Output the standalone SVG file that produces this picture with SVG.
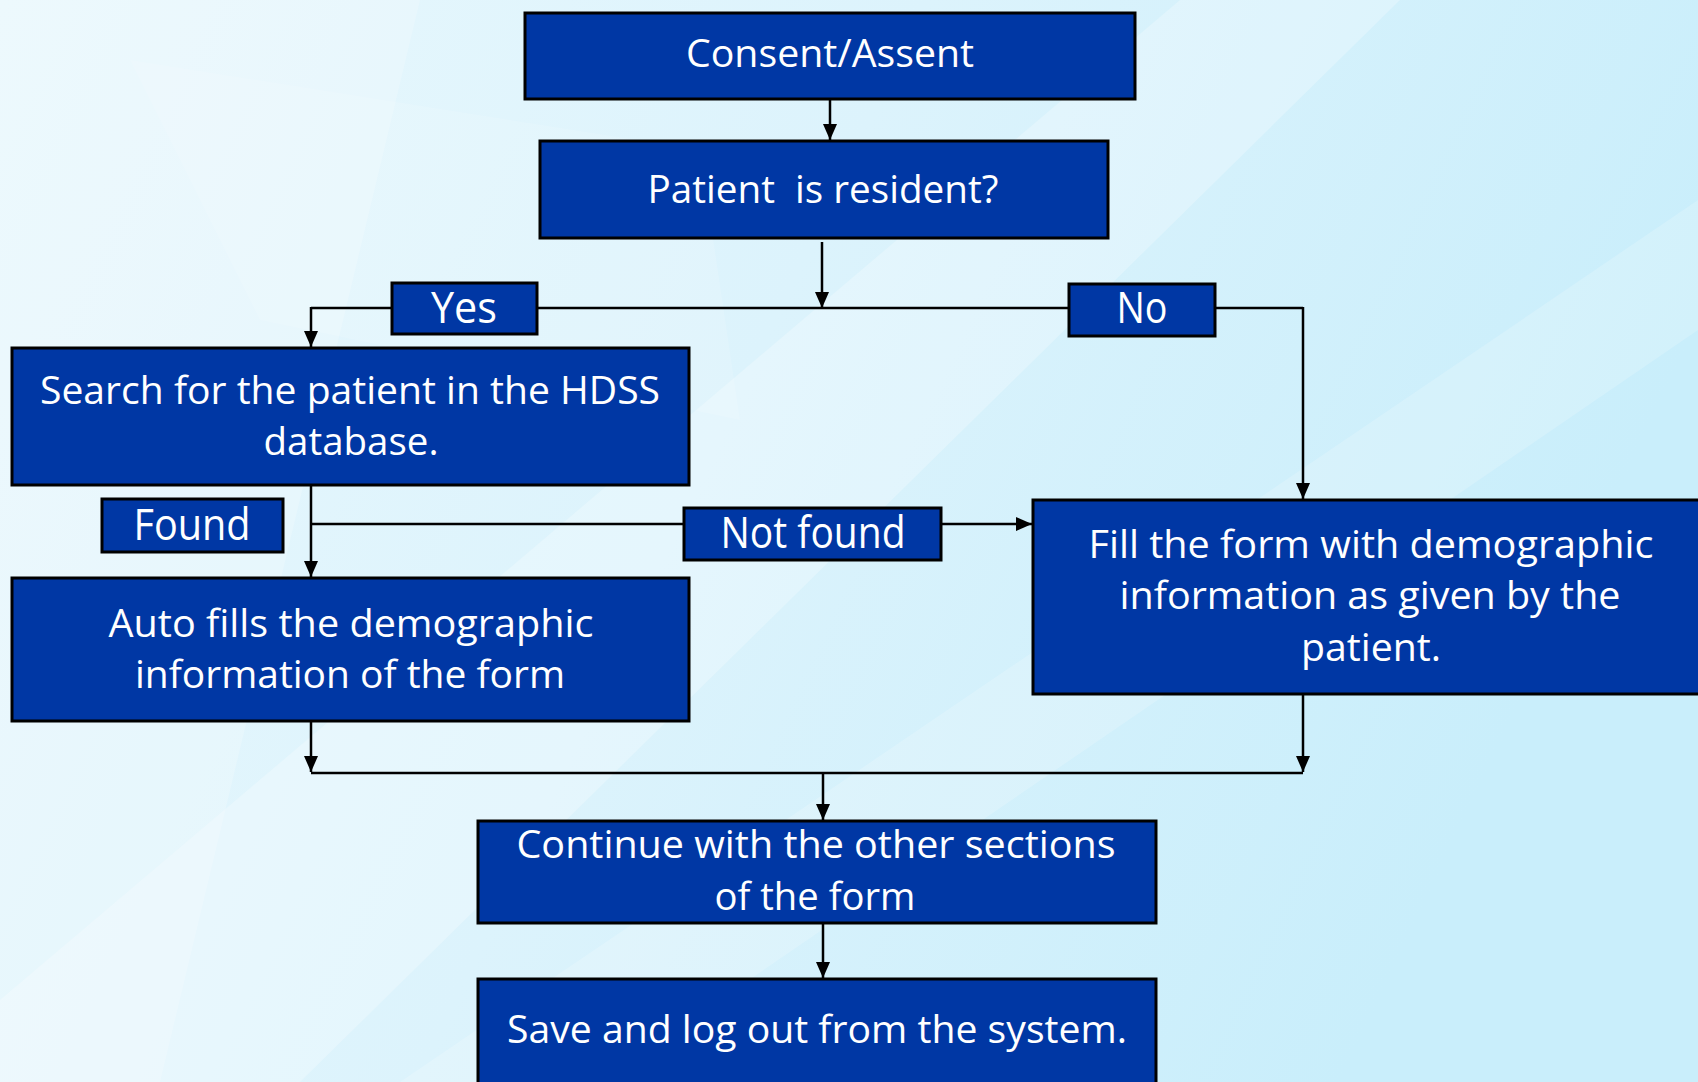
<svg xmlns="http://www.w3.org/2000/svg" width="1698" height="1082" viewBox="0 0 1698 1082">
  <defs>
    <linearGradient id="bg" x1="0" y1="0" x2="1" y2="0.3">
      <stop offset="0" stop-color="#e9f8fd"/>
      <stop offset="0.5" stop-color="#dcf3fc"/>
      <stop offset="1" stop-color="#c9eefb"/>
    </linearGradient>
    <marker id="ah" viewBox="0 0 16 14" markerWidth="16" markerHeight="14" refX="16" refY="7" orient="auto" markerUnits="userSpaceOnUse">
      <path d="M0,0 L16,7 L0,14 Z" fill="#000"/>
    </marker>
    <style>
      .box { fill: #0037a4; stroke: #000; stroke-width: 3; }
      .t { font-family: "Open Sans", "Noto Sans", sans-serif; font-size: 39px; fill: #fff; text-anchor: middle; white-space: pre; }
      .lbl { font-size: 44px; }
      .c { fill: none; stroke: #000; stroke-width: 2.5; }
      .ca { fill: none; stroke: #000; stroke-width: 2.5; marker-end: url(#ah); }
    </style>
  </defs>

  <g id="background">
    <rect x="0" y="0" width="1698" height="1082" fill="url(#bg)"/>
    <polygon points="1180,0 1400,0 300,1082 0,1082 0,1000" fill="#ffffff" opacity="0.25"/>
    <polygon points="1698,200 1698,330 600,1082 400,1082" fill="#ffffff" opacity="0.18"/>
    <polygon points="0,0 420,0 160,1082 0,1082" fill="#ffffff" opacity="0.2"/>
    <polygon points="130,60 700,150 740,420 260,320" fill="#ffffff" opacity="0.12"/>
  </g>

  <g id="connectors">
    <line class="ca" x1="830" y1="99" x2="830" y2="140"/>
    <line class="ca" x1="822" y1="242" x2="822" y2="308"/>
    <line class="c" x1="311" y1="308" x2="1303" y2="308"/>
    <line class="ca" x1="311" y1="307" x2="311" y2="347"/>
    <line class="ca" x1="1303" y1="307" x2="1303" y2="499"/>
    <line class="ca" x1="311" y1="485" x2="311" y2="577"/>
    <line class="ca" x1="310" y1="524" x2="1032" y2="524"/>
    <line class="ca" x1="311" y1="721" x2="311" y2="772"/>
    <line class="ca" x1="1303" y1="694" x2="1303" y2="772"/>
    <line class="c" x1="311" y1="773" x2="1303" y2="773"/>
    <line class="ca" x1="823" y1="773" x2="823" y2="820"/>
    <line class="ca" x1="823" y1="923" x2="823" y2="978"/>
  </g>

  <g id="consent">
    <rect class="box" x="525" y="13" width="610" height="86"/>
    <text class="t" x="830" y="67" textLength="288" lengthAdjust="spacingAndGlyphs">Consent/Assent</text>
  </g>
  <g id="resident">
    <rect class="box" x="540" y="141" width="568" height="97"/>
    <text class="t" x="823" y="203" textLength="351" lengthAdjust="spacingAndGlyphs">Patient  is resident?</text>
  </g>
  <g id="yes">
    <rect class="box" x="392" y="283" width="145" height="51"/>
    <text class="t lbl" x="464" y="323" textLength="66" lengthAdjust="spacingAndGlyphs">Yes</text>
  </g>
  <g id="no">
    <rect class="box" x="1069" y="284" width="146" height="52"/>
    <text class="t lbl" x="1142" y="323" textLength="51" lengthAdjust="spacingAndGlyphs">No</text>
  </g>
  <g id="search">
    <rect class="box" x="12" y="348" width="677" height="137"/>
    <text class="t" x="350" y="404" textLength="620" lengthAdjust="spacingAndGlyphs">Search for the patient in the HDSS</text>
    <text class="t" x="351" y="455" textLength="175" lengthAdjust="spacingAndGlyphs">database.</text>
  </g>
  <g id="found">
    <rect class="box" x="102" y="499" width="181" height="53"/>
    <text class="t lbl" x="192" y="540" textLength="117" lengthAdjust="spacingAndGlyphs">Found</text>
  </g>
  <g id="notfound">
    <rect class="box" x="684" y="508" width="257" height="52"/>
    <text class="t lbl" x="813" y="548" textLength="185" lengthAdjust="spacingAndGlyphs">Not found</text>
  </g>
  <g id="fill">
    <rect class="box" x="1033" y="500" width="680" height="194"/>
    <text class="t" x="1371" y="558" textLength="565" lengthAdjust="spacingAndGlyphs">Fill the form with demographic</text>
    <text class="t" x="1370" y="609" textLength="501" lengthAdjust="spacingAndGlyphs">information as given by the</text>
    <text class="t" x="1371" y="661" textLength="140" lengthAdjust="spacingAndGlyphs">patient.</text>
  </g>
  <g id="autofill">
    <rect class="box" x="12" y="578" width="677" height="143"/>
    <text class="t" x="351" y="637" textLength="485" lengthAdjust="spacingAndGlyphs">Auto fills the demographic</text>
    <text class="t" x="350" y="688" textLength="430" lengthAdjust="spacingAndGlyphs">information of the form</text>
  </g>
  <g id="continue">
    <rect class="box" x="478" y="821" width="678" height="102"/>
    <text class="t" x="816" y="858" textLength="599" lengthAdjust="spacingAndGlyphs">Continue with the other sections</text>
    <text class="t" x="815" y="910" textLength="201" lengthAdjust="spacingAndGlyphs">of the form</text>
  </g>
  <g id="save">
    <rect class="box" x="478" y="979" width="678" height="115"/>
    <text class="t" x="817" y="1043" textLength="620" lengthAdjust="spacingAndGlyphs">Save and log out from the system.</text>
  </g>
</svg>
